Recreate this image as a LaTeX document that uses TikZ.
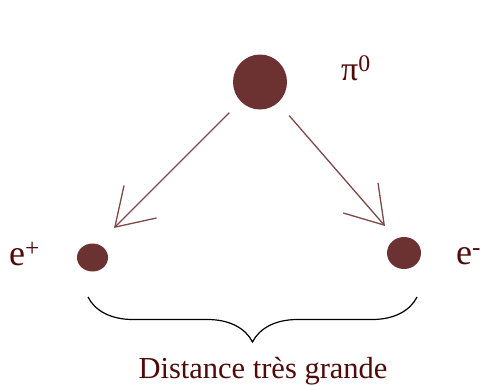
\documentclass[tikz,border=0pt]{standalone}
\usepackage{fontspec}
\setmainfont{Liberation Serif}
\usetikzlibrary{arrows.meta, positioning, shapes.geometric, decorations.pathreplacing}

\definecolor{textred}{RGB}{80,10,10}
\definecolor{dotred}{RGB}{108,50,50}
\definecolor{arrowred}{RGB}{125,72,72}

\begin{document}
\begin{tikzpicture}[x=1bp, y=-1bp,
    particle/.style={ellipse, fill=dotred, draw=none, inner sep=0pt},
    decay/.style={arrowred, line width=1.3bp, -{Straight Barb[length=36bp, width=46bp, line width=1.3bp]}},
    lbl/.style={textred, inner sep=0pt}]
    \useasboundingbox (0,0) rectangle (491,385);

    % Particles
    \node[particle, minimum width=54bp, minimum height=55bp] (pion) at (260,82) {};
    \node[particle, minimum width=31bp, minimum height=28bp] (positron) at (92.5,257.5) {};
    \node[particle, minimum width=34bp, minimum height=32bp] (electron) at (404,253) {};

    % Labels
    \node[lbl, anchor=base west, font=\fontsize{34bp}{38bp}\selectfont] (pilabel) at (341,80) {π\textsuperscript{0}};
    \node[lbl, anchor=base west, font=\fontsize{36bp}{40bp}\selectfont] (eplabel) at (9,265) {e\textsuperscript{+}};
    \node[lbl, anchor=base west, font=\fontsize{36bp}{40bp}\selectfont] (emlabel) at (456,264) {e\textsuperscript{-}};

    % Decay arrows
    \coordinate (tipL) at (114,228);
    \coordinate (tipR) at (385,226);
    \draw[decay, shorten <=16bp] (pion) -- (tipL);
    \draw[decay, shorten <=17bp] (pion) -- (tipR);

    % Brace
    \coordinate (braceL) at (88,297);
    \coordinate (braceR) at (417,297);
    \draw[line width=1.2bp, decorate, decoration={brace, mirror, amplitude=45bp}] (braceL) -- (braceR);
    \node[lbl, anchor=base, font=\fontsize{30.5bp}{35bp}\selectfont] (dist) at (263,378) {Distance très grande};
\end{tikzpicture}
\end{document}
